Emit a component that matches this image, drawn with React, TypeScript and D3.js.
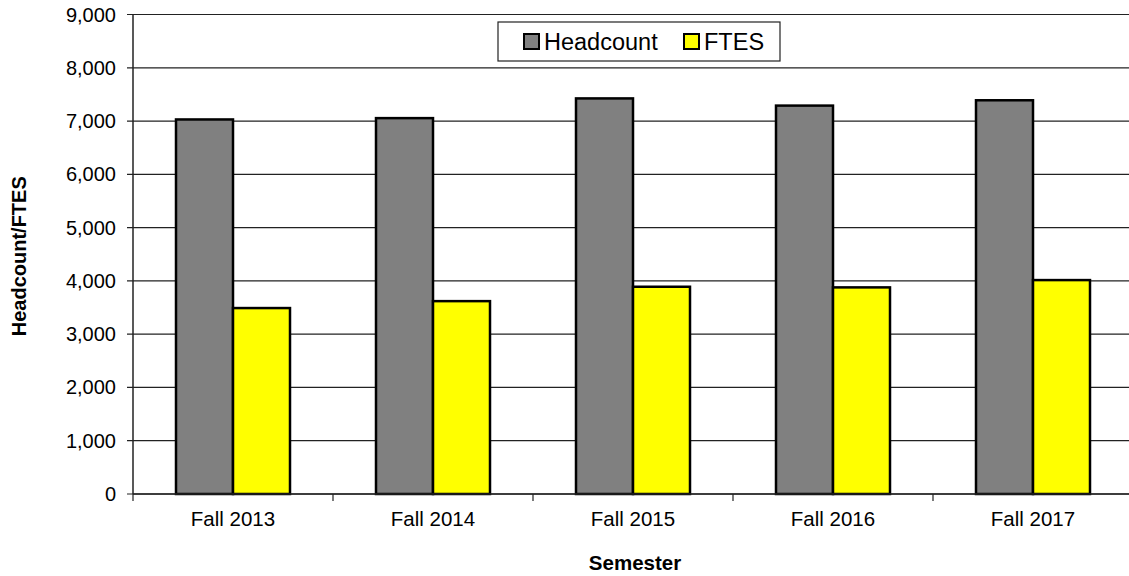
import React from 'react'
import * as d3 from 'd3'

const width = 1129;
const height = 576;
const margin = { top: 14.5, right: -4, bottom: 82, left: 133 };

const semesters = ['Fall 2013', 'Fall 2014', 'Fall 2015', 'Fall 2016', 'Fall 2017'];
const headcount = [7030, 7055, 7425, 7290, 7390];
const ftes = [3490, 3620, 3890, 3878, 4015];
const seriesNames = ['Headcount', 'FTES'];
const seriesColors = ['#808080', '#ffff00'];
const yTicks = [0, 1000, 2000, 3000, 4000, 5000, 6000, 7000, 8000, 9000];

const font = '"Liberation Sans", Arial, sans-serif';

export default function App() {
  const x = d3.scaleBand().domain(semesters)
    .range([margin.left, width - margin.right])
    .paddingInner(0.43).paddingOuter(0.215);
  const inner = d3.scaleBand().domain(seriesNames).range([0, x.bandwidth()]);
  const y = d3.scaleLinear().domain([0, 9000]).range([height - margin.bottom, margin.top]);
  const fmt = d3.format(',');
  const step = x.step();
  const bottom = y(0);
  const series = [headcount, ftes];

  // category boundaries for the little tick marks under the axis
  const bounds = d3.range(semesters.length + 1).map(i => margin.left + i * step);

  return (
    <svg width={width} height={height} style={{ position: 'absolute', left: 0, top: 0, background: '#fff' }}
      fontFamily={font}>
      {yTicks.map(t => (
        <g key={t}>
          <line x1={margin.left - 6} x2={width} y1={y(t)} y2={y(t)} stroke="#222" strokeWidth={1.2} />
          <text x={116} y={y(t)} dy="0.35em" textAnchor="end" fontSize={20} fill="#000">{fmt(t)}</text>
        </g>
      ))}
      {semesters.map((s, i) => (
        <g key={s}>
          {series.map((vals, j) => (
            <rect key={j}
              x={x(s)! + inner(seriesNames[j])!}
              y={y(vals[i])}
              width={inner.bandwidth()}
              height={bottom - y(vals[i])}
              fill={seriesColors[j]} stroke="#000" strokeWidth={2.5} />
          ))}
          <text x={x(s)! + x.bandwidth() / 2} y={526} textAnchor="middle" fontSize={20.5} fill="#000">{s}</text>
        </g>
      ))}
      {bounds.map((b, i) => (
        <line key={i} x1={b} x2={b} y1={bottom} y2={bottom + 7} stroke="#222" strokeWidth={1.2} />
      ))}
      <line x1={margin.left} x2={width} y1={bottom} y2={bottom} stroke="#222" strokeWidth={1.5} />
      <line x1={margin.left} x2={margin.left} y1={margin.top} y2={bottom} stroke="#222" strokeWidth={1.5} />

      <text x={635} y={570} textAnchor="middle" fontSize={20.5} fontWeight="bold">Semester</text>
      <text transform={`translate(26, ${(margin.top + bottom) / 2 + 2}) rotate(-90)`} textAnchor="middle"
        fontSize={20} fontWeight="bold">Headcount/FTES</text>

      <g>
        <rect x={498} y={22} width={282} height={39} fill="#fff" stroke="#222" strokeWidth={1.2} />
        {seriesNames.map((n, j) => (
          <g key={n} transform={`translate(${j === 0 ? 524 : 684}, 41.5)`}>
            <rect x={0} y={-7.5} width={15} height={15} fill={seriesColors[j]} stroke="#000" strokeWidth={2} />
            <text x={20} y={0} dy="0.36em" fontSize={23.5}>{n}</text>
          </g>
        ))}
      </g>
    </svg>
  )
}
